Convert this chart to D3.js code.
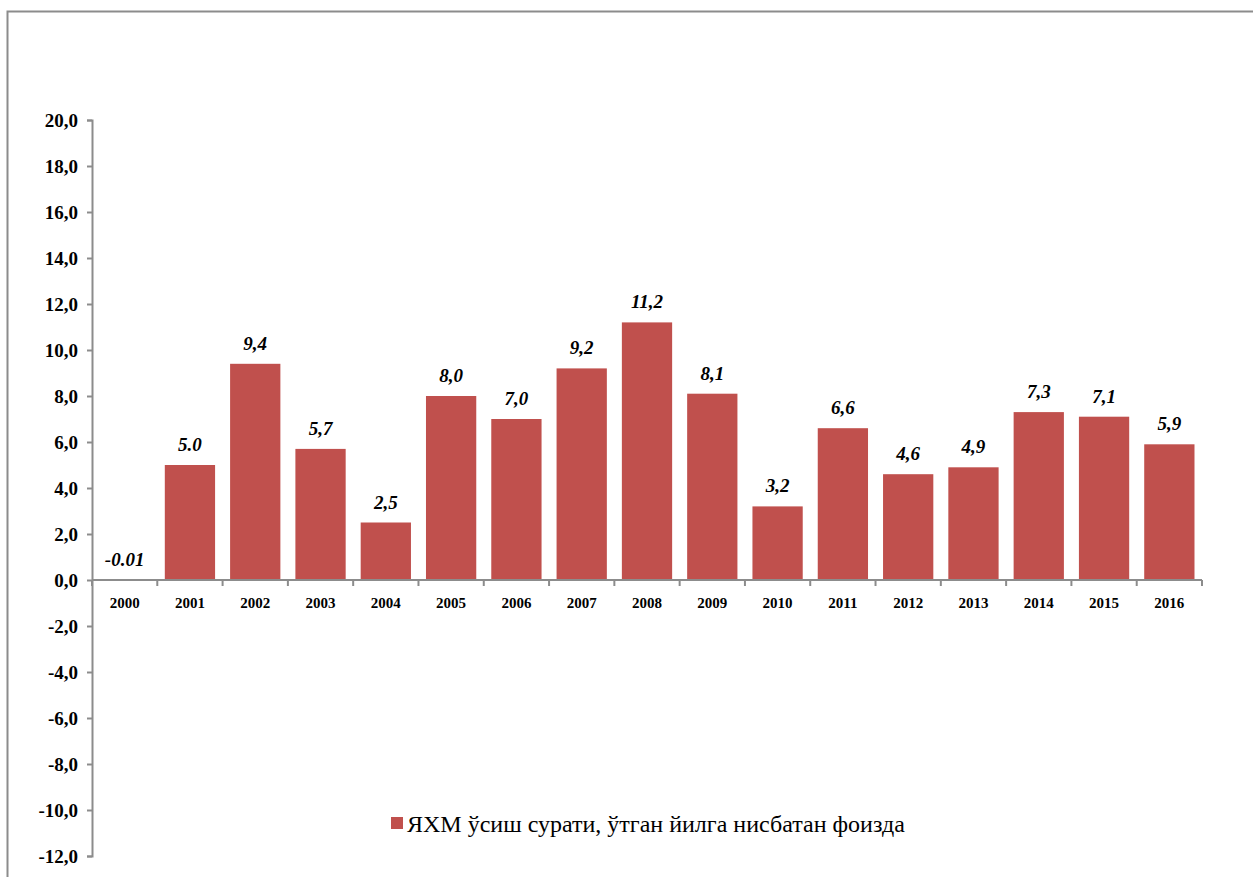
<!DOCTYPE html>
<html>
<head>
<meta charset="utf-8">
<script src="https://cdn.jsdelivr.net/npm/d3@7"></script>
<style>
  body { margin: 0; background: #fff; }
  svg { display: block; }
  .axis path, .axis line { stroke: #8c8c8c; stroke-width: 2; }
  text { font-family: "Liberation Serif", Tinos, "Times New Roman", "DejaVu Serif", serif; }
</style>
</head>
<body>
<svg id="chart"></svg>
<script>
// data
const years = ["2000","2001","2002","2003","2004","2005","2006","2007","2008",
               "2009","2010","2011","2012","2013","2014","2015","2016"];
const growth = [-0.01, 5.0, 9.4, 5.7, 2.5, 8.0, 7.0, 9.2, 11.2, 8.1, 3.2, 6.6, 4.6, 4.9, 7.3, 7.1, 5.9];
const valueLabels = ["-0.01","5.0","9,4","5,7","2,5","8,0","7,0","9,2","11,2",
                     "8,1","3,2","6,6","4,6","4,9","7,3","7,1","5,9"];
const yTicks = [20,18,16,14,12,10,8,6,4,2,0,-2,-4,-6,-8,-10,-12];
const seriesName = "ЯХМ ўсиш сурати, ўтган йилга нисбатан фоизда";

const W = 1253, H = 877;
const serif = '"Liberation Serif", Tinos, "Times New Roman", "DejaVu Serif", serif';
const svg = d3.select("#chart").attr("width", W).attr("height", H);

// outer chart frame (runs off the bottom/right of the page)
svg.append("rect")
  .attr("x", 7.5).attr("y", 11.5)
  .attr("width", W + 20).attr("height", H + 20)
  .attr("fill", "none").attr("stroke", "#8c8c8c").attr("stroke-width", 2);

const plotL = 92, plotR = 1202, plotT = 120, plotB = 856;

const x = d3.scaleBand().domain(years).range([plotL, plotR]).paddingInner(0.23).paddingOuter(0.115);
const y = d3.scaleLinear().domain([-12, 20]).range([plotB, plotT]);

// y axis
const yAxis = svg.append("g")
  .attr("class", "axis")
  .attr("transform", `translate(${plotL},0)`)
  .call(d3.axisLeft(y).tickValues(yTicks).tickSize(5).tickSizeOuter(5)
    .tickFormat(d => d3.format(".1f")(d).replace(".", ",").replace("−", "-")));
yAxis.attr("font-family", serif);
yAxis.selectAll("text")
  .attr("x", -14)
  .style("font-family", serif)
  .style("font-weight", "bold")
  .style("font-size", "19px")
  .attr("fill", "#000");

// bars
svg.selectAll("rect.bar")
  .data(growth)
  .enter().append("rect")
  .attr("class", "bar")
  .attr("x", (d, i) => x(years[i]))
  .attr("width", x.bandwidth())
  .attr("y", d => y(Math.max(0, d)))
  .attr("height", d => Math.abs(y(d) - y(0)))
  .attr("fill", "#c0504d");

// x axis along zero
const xAxisG = svg.append("g")
  .attr("class", "axis")
  .attr("transform", `translate(0,${y(0)})`);
xAxisG.append("line")
  .attr("x1", plotL).attr("x2", plotR).attr("y1", 0).attr("y2", 0);
xAxisG.selectAll("line.tick")
  .data(d3.range(years.length + 1))
  .enter().append("line")
  .attr("class", "tick")
  .attr("x1", i => plotL + i * (plotR - plotL) / years.length)
  .attr("x2", i => plotL + i * (plotR - plotL) / years.length)
  .attr("y1", 0).attr("y2", 6);
xAxisG.selectAll("text")
  .data(years)
  .enter().append("text")
  .attr("x", d => x(d) + x.bandwidth() / 2)
  .attr("y", 28)
  .attr("text-anchor", "middle")
  .style("font-family", serif)
  .style("font-weight", "bold")
  .style("font-size", "15px")
  .text(d => d);

// value labels
svg.selectAll("text.val")
  .data(growth)
  .enter().append("text")
  .attr("class", "val")
  .attr("x", (d, i) => x(years[i]) + x.bandwidth() / 2)
  .attr("y", d => y(Math.max(0, d)) - 14)
  .attr("text-anchor", "middle")
  .style("font-family", serif)
  .style("font-weight", "bold")
  .style("font-style", "italic")
  .style("font-size", "19px")
  .text((d, i) => valueLabels[i]);

// legend
const lg = svg.append("g").attr("transform", "translate(391,817)");
lg.append("rect").attr("width", 12).attr("height", 12).attr("fill", "#c0504d");
lg.append("text")
  .attr("x", 16).attr("y", 15)
  .style("font-family", serif)
  .style("font-size", "24px")
  .text(seriesName);
</script>
</body>
</html>
